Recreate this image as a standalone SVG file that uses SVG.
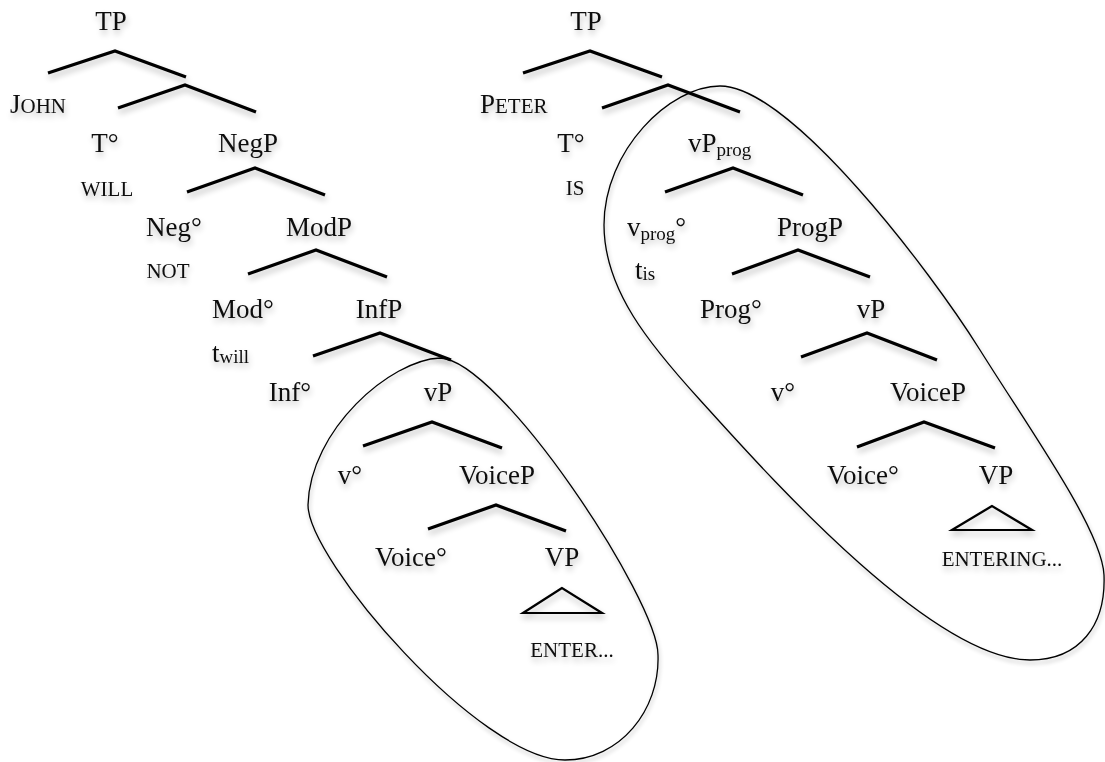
<svg xmlns="http://www.w3.org/2000/svg" width="1105" height="762" viewBox="0 0 1105 762">
<defs>
<filter id="sh" x="-20%" y="-40%" width="140%" height="200%">
<feGaussianBlur in="SourceAlpha" stdDeviation="3"/>
<feOffset dx="1" dy="4" result="b"/>
<feComponentTransfer><feFuncA type="linear" slope="0.28"/></feComponentTransfer>
<feMerge><feMergeNode/><feMergeNode in="SourceGraphic"/></feMerge>
</filter>
<filter id="shl" x="-10%" y="-10%" width="120%" height="120%">
<feGaussianBlur in="SourceAlpha" stdDeviation="2"/>
<feOffset dx="1" dy="3" result="b"/>
<feComponentTransfer><feFuncA type="linear" slope="0.3"/></feComponentTransfer>
<feMerge><feMergeNode/><feMergeNode in="SourceGraphic"/></feMerge>
</filter>
</defs>
<style>
text{font-family:"Liberation Serif","Times New Roman",serif;font-size:27px;fill:#111;}
.m{text-anchor:middle;}
.sc{font-size:21px;}
.sub{font-size:19px;}
.br{fill:none;stroke:#000;stroke-width:3.2;stroke-linejoin:miter;}
.tri{fill:none;stroke:#000;stroke-width:2.2;}
.blob{fill:none;stroke:#000;stroke-width:1.3;}
</style>
<rect width="1105" height="762" fill="#fff"/>

<g id="highlights" filter="url(#shl)">
<path class="blob" d="M440,358 C390,360 310,430 308,505 C308,560 480,760 565,760 C620,760 660,710 658,655 C658,600 500,360 440,358 Z"/>
<path class="blob" d="M720,86 C670,86 604,150 604,225 C604,290 650,345 700,400 C760,466 930,660 1030,660 C1080,660 1106,625 1104,575 C1102,530 1030,430 980,350 C930,270 790,86 720,86 Z"/>
</g>

<g id="connectors" filter="url(#sh)">
<polyline class="br" points="48,73 115,51 186,77"/>
<polyline class="br" points="118,108 185,85 256,112"/>
<polyline class="br" points="187,192 255,168 325,195"/>
<polyline class="br" points="248,274 316,250 387,277"/>
<polyline class="br" points="313,356 380,333 451,360"/>
<polyline class="br" points="363,446 432,422 502,448"/>
<polyline class="br" points="428,529 496,505 566,531"/>
<polygon class="tri" points="562,588 523,613 602,613"/>
<polyline class="br" points="523,73 590,51 662,77"/>
<polyline class="br" points="602,108 668,85 740,112"/>
<polyline class="br" points="665,192 733,168 803,195"/>
<polyline class="br" points="732,274 798,250 870,277"/>
<polyline class="br" points="801,357 867,333 937,360"/>
<polyline class="br" points="857,447 924,422 995,448"/>
<polygon class="tri" points="992,506 952,530 1032,530"/>
</g>

<g id="left-tree" filter="url(#sh)">
<g id="L-TP"><text class="m" x="111" y="30">TP</text></g>
<g id="L-John"><text x="10" y="113">J<tspan class="sc">OHN</tspan></text></g>
<g id="L-T"><text class="m" x="105" y="152">T°</text></g>
<g id="L-NegP"><text class="m" x="248" y="152">NegP</text></g>
<g id="L-will"><text class="m sc" x="107" y="196">WILL</text></g>
<g id="L-Neg"><text class="m" x="174" y="236">Neg°</text></g>
<g id="L-ModP"><text class="m" x="319" y="236">ModP</text></g>
<g id="L-not"><text class="m sc" x="168" y="278">NOT</text></g>
<g id="L-Mod"><text class="m" x="243" y="318">Mod°</text></g>
<g id="L-InfP"><text class="m" x="379" y="318">InfP</text></g>
<g id="L-twill"><text x="212" y="362">t<tspan class="sub" dy="1">will</tspan></text></g>
<g id="L-Inf"><text class="m" x="290" y="401">Inf°</text></g>
<g id="L-vP"><text class="m" x="438" y="401">vP</text></g>
<g id="L-v"><text class="m" x="350" y="484">v°</text></g>
<g id="L-VoiceP"><text class="m" x="497" y="484">VoiceP</text></g>
<g id="L-Voice"><text class="m" x="411" y="566">Voice°</text></g>
<g id="L-VP"><text class="m" x="562" y="566">VP</text></g>
<g id="L-enter"><text class="m sc" x="572" y="657">ENTER...</text></g>
</g>

<g id="right-tree" filter="url(#sh)">
<g id="R-TP"><text class="m" x="586" y="30">TP</text></g>
<g id="R-Peter"><text x="480" y="113">P<tspan class="sc">ETER</tspan></text></g>
<g id="R-T"><text class="m" x="571" y="152">T°</text></g>
<g id="R-vPprog"><text x="688" y="152">vP<tspan class="sub" dy="4">prog</tspan></text></g>
<g id="R-is"><text class="m sc" x="575" y="195">IS</text></g>
<g id="R-vprog"><text x="627" y="236">v<tspan class="sub" dy="4">prog</tspan><tspan dy="-4">°</tspan></text></g>
<g id="R-ProgP"><text class="m" x="810" y="236">ProgP</text></g>
<g id="R-tis"><text x="635" y="279">t<tspan class="sub" dy="1">is</tspan></text></g>
<g id="R-Prog"><text class="m" x="731" y="318">Prog°</text></g>
<g id="R-vP"><text class="m" x="871" y="318">vP</text></g>
<g id="R-v"><text class="m" x="783" y="401">v°</text></g>
<g id="R-VoiceP"><text class="m" x="928" y="401">VoiceP</text></g>
<g id="R-Voice"><text class="m" x="863" y="484">Voice°</text></g>
<g id="R-VP"><text class="m" x="996" y="484">VP</text></g>
<g id="R-entering"><text class="m sc" x="1002" y="566">ENTERING...</text></g>
</g>
</svg>
